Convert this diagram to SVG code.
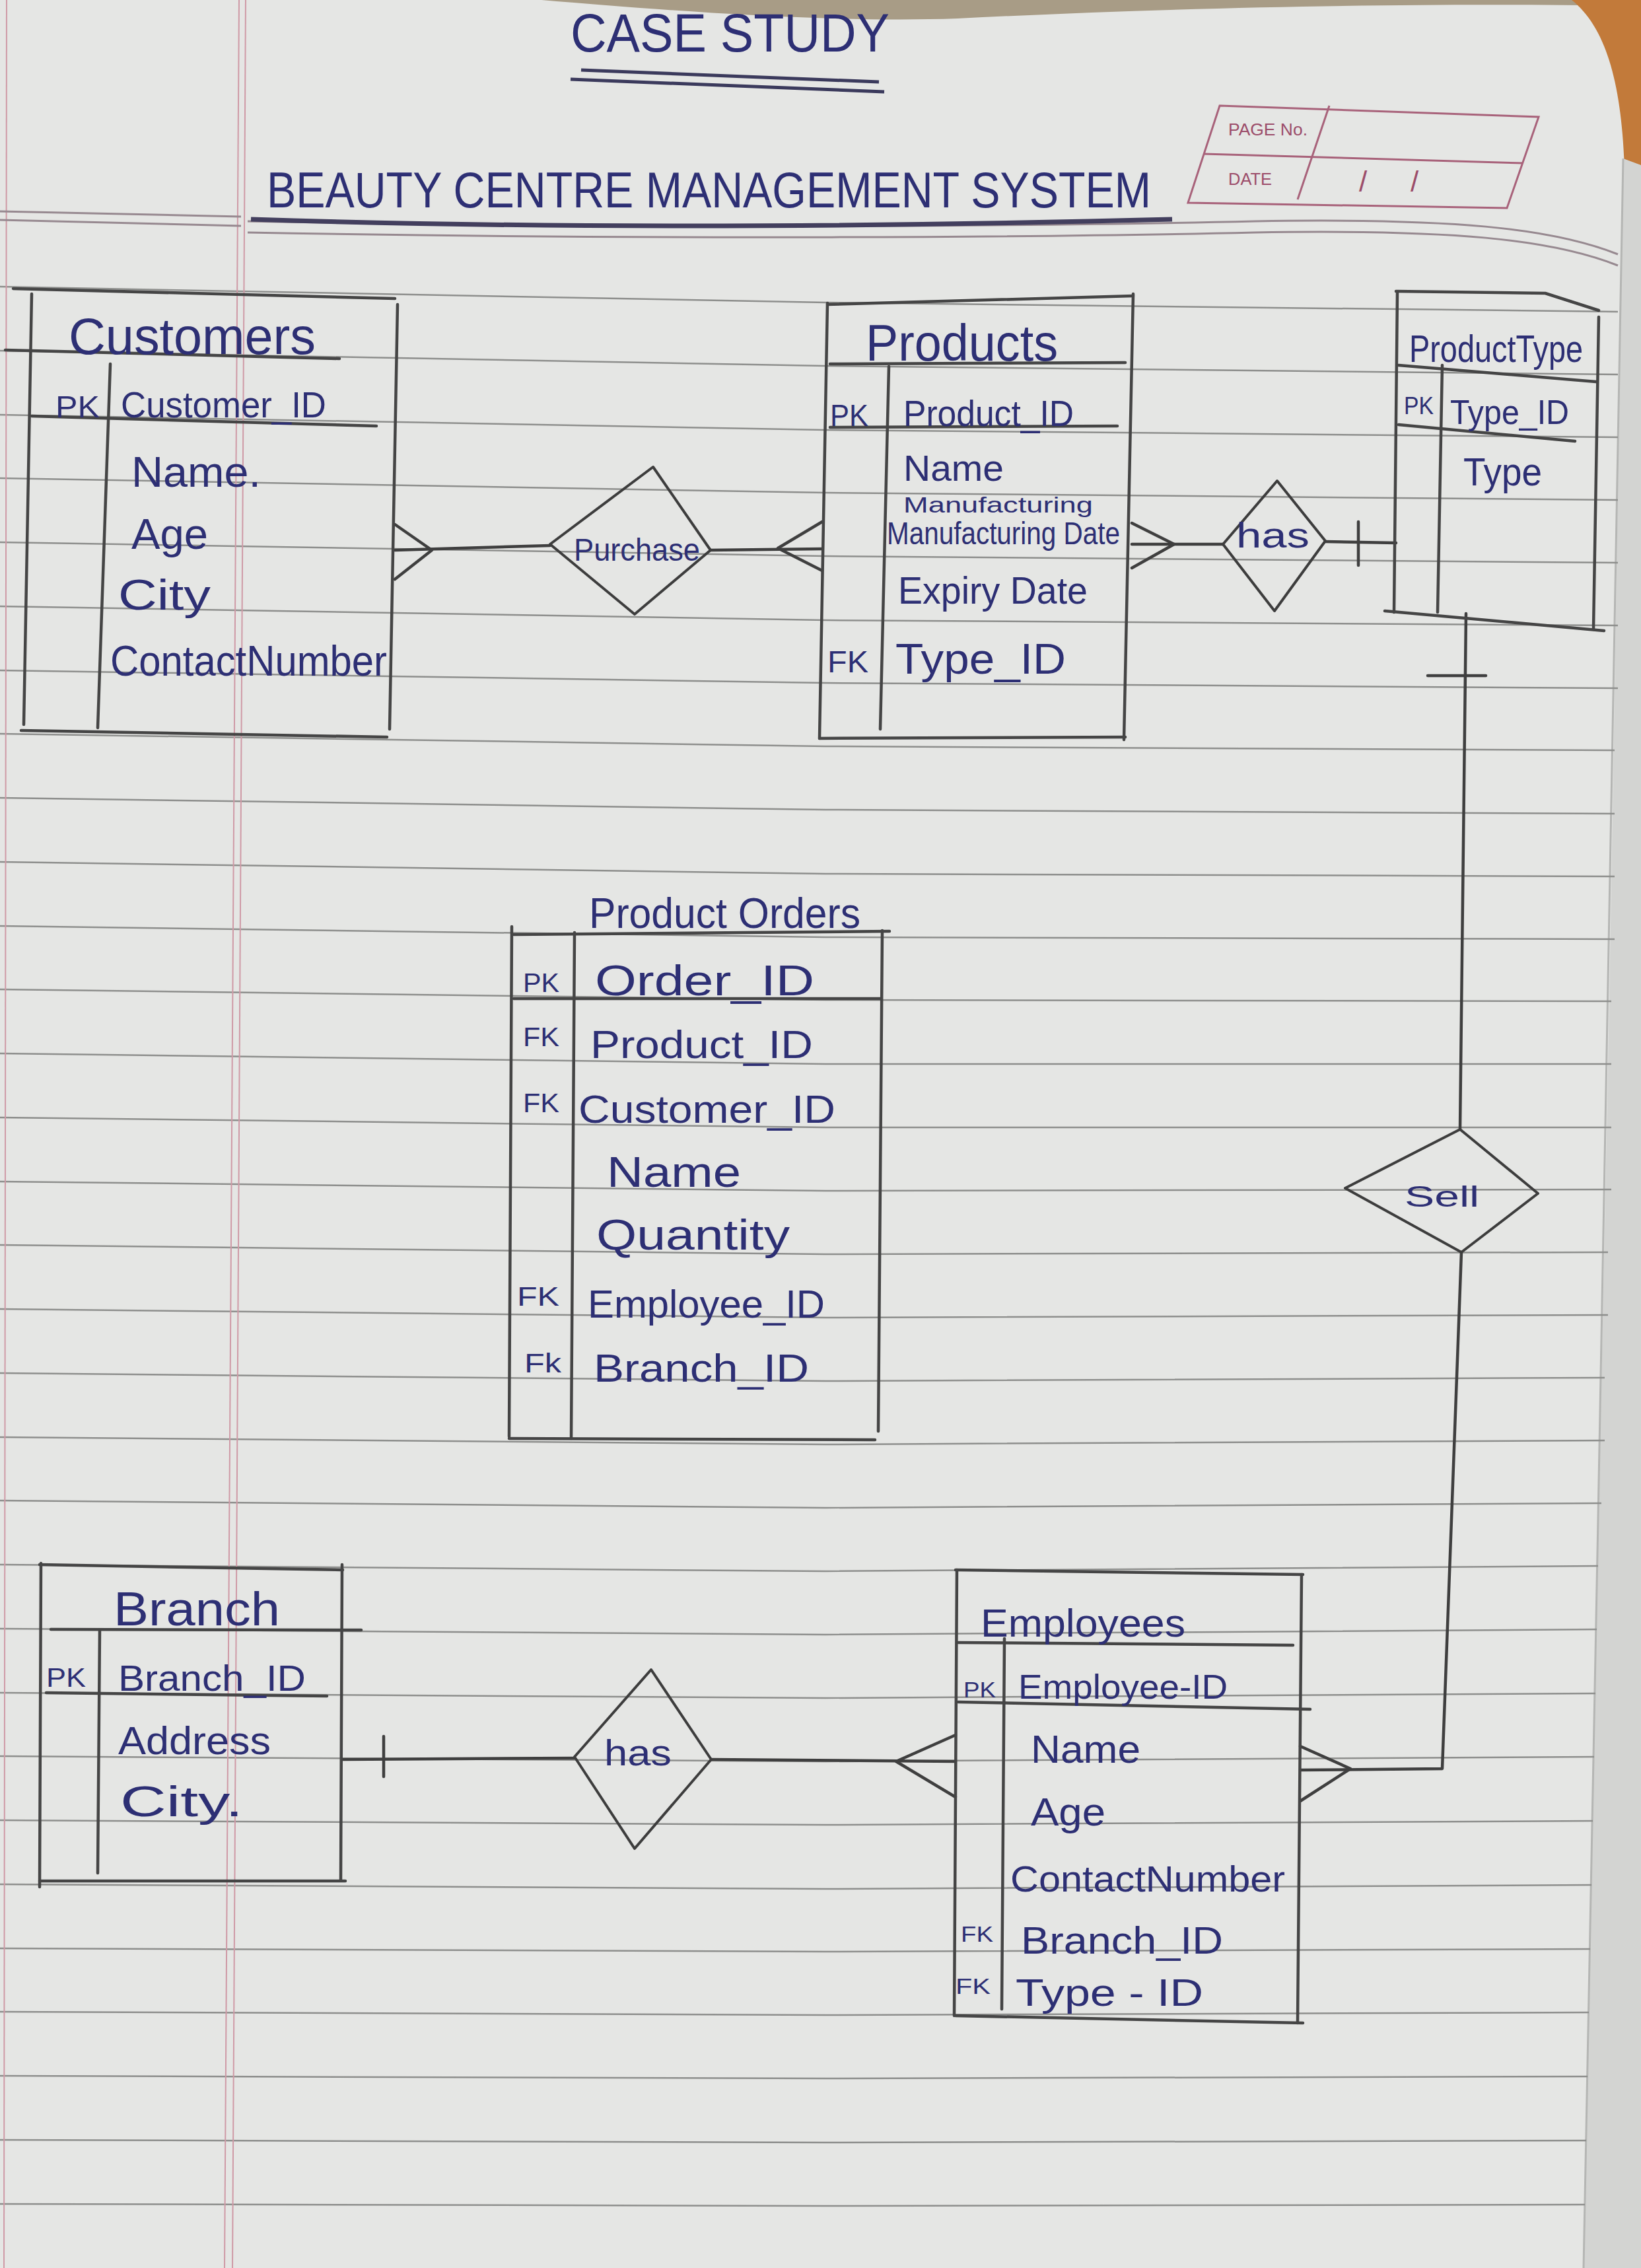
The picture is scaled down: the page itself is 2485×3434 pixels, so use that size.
<svg xmlns="http://www.w3.org/2000/svg" width="2485" height="3434" viewBox="0 0 2485 3434">
<style>
.ink{font-family:"Liberation Sans","DejaVu Sans",sans-serif;fill:#2d2f74}
.key{font-family:"Liberation Sans","DejaVu Sans",sans-serif;fill:#2d2f74}
.print{font-family:"Liberation Sans","DejaVu Sans",sans-serif;fill:#9c4d6a}
.rule{fill:none;stroke:#8e8f8d;stroke-width:2.5}
.box{fill:none;stroke:#454545;stroke-width:4.5;stroke-linecap:round;stroke-linejoin:round}
.dia{fill:none;stroke:#3d3d3d;stroke-width:4;stroke-linejoin:round}
.conn{fill:none;stroke:#3f3f3f;stroke-width:4.5;stroke-linecap:round;stroke-linejoin:round}
.pink{fill:none;stroke:#cf9aa6;stroke-width:2}
.hdr{fill:none;stroke:#978990;stroke-width:3}
.pbox{fill:none;stroke:#a8627a;stroke-width:3}
</style>
<g id="paper">
<rect x="0" y="0" width="2485" height="3434" fill="#e5e6e4"/>
<path d="M820,0 C1000,15 1250,35 1450,28 C1800,10 2150,5 2400,8 L2400,0 Z" fill="#a89c86"/>
<path d="M2380,0 L2485,0 L2485,260 L2460,250 C2455,120 2430,40 2380,0 Z" fill="#c27a3a"/>
<path d="M2458,240 C2450,700 2440,1500 2420,2300 L2398,3434 L2485,3434 L2485,250 Z" fill="#d3d4d2"/>
<path d="M2458,240 C2450,700 2440,1500 2420,2300 L2398,3434" fill="none" stroke="#b5b6b4" stroke-width="3"/>
<g id="ruled-lines">
<path class="rule" d="M0,434 L1250,458 L2450,472"/>
<path class="rule" d="M0,531 L1250,554 L2450,567"/>
<path class="rule" d="M0,628 L1250,651 L2450,662"/>
<path class="rule" d="M0,724 L1250,746 L2450,757"/>
<path class="rule" d="M0,821 L1250,842 L2450,852"/>
<path class="rule" d="M0,918 L1250,939 L2450,947"/>
<path class="rule" d="M0,1015 L1250,1034 L2450,1042"/>
<path class="rule" d="M0,1111 L1250,1130 L2445,1136"/>
<path class="rule" d="M0,1208 L1250,1226 L2445,1232"/>
<path class="rule" d="M0,1305 L1250,1323 L2445,1327"/>
<path class="rule" d="M0,1402 L1250,1419 L2445,1422"/>
<path class="rule" d="M0,1498 L1250,1514 L2440,1516"/>
<path class="rule" d="M0,1595 L1250,1611 L2440,1611"/>
<path class="rule" d="M0,1692 L1250,1707 L2440,1707"/>
<path class="rule" d="M0,1789 L1250,1803 L2440,1801"/>
<path class="rule" d="M0,1885 L1250,1899 L2435,1896"/>
<path class="rule" d="M0,1982 L1250,1995 L2435,1991"/>
<path class="rule" d="M0,2079 L1250,2091 L2430,2086"/>
<path class="rule" d="M0,2176 L1250,2187 L2430,2181"/>
<path class="rule" d="M0,2272 L1250,2283 L2425,2276"/>
<path class="rule" d="M0,2369 L1250,2379 L2420,2371"/>
<path class="rule" d="M0,2466 L1250,2475 L2418,2467"/>
<path class="rule" d="M0,2563 L1250,2571 L2416,2564"/>
<path class="rule" d="M0,2659 L1250,2667 L2414,2660"/>
<path class="rule" d="M0,2756 L1250,2763 L2412,2757"/>
<path class="rule" d="M0,2853 L1250,2860 L2410,2854"/>
<path class="rule" d="M0,2950 L1250,2955 L2408,2951"/>
<path class="rule" d="M0,3046 L1250,3051 L2406,3047"/>
<path class="rule" d="M0,3143 L1250,3147 L2404,3144"/>
<path class="rule" d="M0,3240 L1250,3244 L2402,3241"/>
<path class="rule" d="M0,3337 L1250,3340 L2400,3338"/>
</g>
<path class="pink" d="M362,0 L340,3434"/>
<path class="pink" d="M372,0 L352,3434"/>
<path class="pink" d="M10,0 L6,3434"/>
<path class="hdr" d="M0,320 L365,328"/>
<path class="hdr" d="M0,333 L365,342"/>
<path class="hdr" d="M375,335 C1000,347 1600,342 1900,335 C2200,330 2350,345 2450,385"/>
<path class="hdr" d="M375,352 C1000,364 1600,359 1900,352 C2200,347 2350,362 2450,402"/>
</g>
<g id="title">
<text class="ink" x="864" y="78" font-size="82" textLength="483" lengthAdjust="spacingAndGlyphs">CASE STUDY</text>
<path d="M880,106 L1331,124" stroke="#3b3a5c" stroke-width="5" fill="none"/>
<path d="M864,120 L1339,139" stroke="#3b3a5c" stroke-width="5" fill="none"/>
<text class="ink" x="404" y="314" font-size="76" textLength="1339" lengthAdjust="spacingAndGlyphs">BEAUTY CENTRE MANAGEMENT SYSTEM</text>
<path d="M380,332 Q1000,352 1775,332" stroke="#433f5e" stroke-width="7" fill="none"/>
</g>
<g id="page-date-box">
<path class="pbox" d="M1847,160 L2330,177 L2282,315 L1799,307 Z"/>
<path class="pbox" d="M1823,233 L2306,247"/>
<path class="pbox" d="M2013,160 L1965,302"/>
<text class="print" x="1860" y="205" font-size="26" textLength="120" lengthAdjust="spacingAndGlyphs">PAGE No.</text>
<text class="print" x="1860" y="280" font-size="26" textLength="66" lengthAdjust="spacingAndGlyphs">DATE</text>
<text class="print" x="2058" y="290" font-size="44">/</text>
<text class="print" x="2136" y="290" font-size="44">/</text>
</g>
<g id="connectors">
<path class="conn" d="M598,833 L833,826"/>
<path class="conn" d="M598,794 L654,833 L598,877"/>
<path class="conn" d="M1076,833 L1245,831"/>
<path class="conn" d="M1245,790 L1178,830 L1245,864"/>
<path class="conn" d="M1714,824 L1852,824"/>
<path class="conn" d="M1714,792 L1778,824 L1714,860"/>
<path class="conn" d="M2007,820 L2114,822"/>
<path class="conn" d="M2057,790 L2057,856"/>
<path class="conn" d="M2220,929 L2211,1710"/>
<path class="conn" d="M2162,1023 L2250,1023"/>
<path class="conn" d="M2213,1896 L2184,2678 L1969,2680"/>
<path class="conn" d="M1969,2644 L2045,2678 L1969,2727"/>
<path class="conn" d="M519,2664 L870,2662"/>
<path class="conn" d="M581,2629 L581,2690"/>
<path class="conn" d="M1077,2664 L1447,2667"/>
<path class="conn" d="M1447,2627 L1357,2667 L1447,2721"/>
</g>
<g id="customers">
<path class="box" d="M20,437 L598,452"/>
<path class="box" d="M48,445 L36,1097"/>
<path class="box" d="M602,461 L590,1104"/>
<path class="box" d="M32,1106 L586,1116"/>
<path class="box" d="M8,530 L514,543"/>
<path class="box" d="M167,551 L148,1102"/>
<path class="box" d="M48,630 L570,645"/>
<text class="ink" x="104" y="536" font-size="78" textLength="374" lengthAdjust="spacingAndGlyphs">Customers</text>
<text class="key" x="84" y="632" font-size="46" textLength="67" lengthAdjust="spacingAndGlyphs">PK</text>
<text class="ink" x="183" y="632" font-size="56" textLength="311" lengthAdjust="spacingAndGlyphs">Customer_ID</text>
<text class="ink" x="199" y="737" font-size="64" textLength="196" lengthAdjust="spacingAndGlyphs">Name.</text>
<text class="ink" x="199" y="831" font-size="64" textLength="116" lengthAdjust="spacingAndGlyphs">Age</text>
<text class="ink" x="179" y="923" font-size="64" textLength="140" lengthAdjust="spacingAndGlyphs">City</text>
<text class="ink" x="167" y="1023" font-size="64" textLength="419" lengthAdjust="spacingAndGlyphs">ContactNumber</text>
</g>
<g id="rel-purchase">
<path class="dia" d="M989,707 L1076,833 L961,930 L833,824 Z"/>
<text class="ink" x="869" y="849" font-size="48" textLength="191" lengthAdjust="spacingAndGlyphs">Purchase</text>
</g>
<g id="products">
<path class="box" d="M1253,461 L1716,448"/>
<path class="box" d="M1253,459 L1241,1118"/>
<path class="box" d="M1716,445 L1702,1120"/>
<path class="box" d="M1241,1118 L1704,1116"/>
<path class="box" d="M1257,551 L1704,549"/>
<path class="box" d="M1346,555 L1333,1104"/>
<path class="box" d="M1257,647 L1692,645"/>
<text class="ink" x="1311" y="546" font-size="78" textLength="291" lengthAdjust="spacingAndGlyphs">Products</text>
<text class="key" x="1257" y="645" font-size="46" textLength="58" lengthAdjust="spacingAndGlyphs">PK</text>
<text class="ink" x="1368" y="645" font-size="56" textLength="258" lengthAdjust="spacingAndGlyphs">Product_ID</text>
<text class="ink" x="1368" y="728" font-size="56" textLength="152" lengthAdjust="spacingAndGlyphs">Name</text>
<text class="ink" x="1368" y="776" font-size="34" textLength="287" lengthAdjust="spacingAndGlyphs">Manufacturing</text>
<text class="ink" x="1343" y="824" font-size="48" textLength="353" lengthAdjust="spacingAndGlyphs">Manufacturing Date</text>
<text class="ink" x="1360" y="914" font-size="58" textLength="287" lengthAdjust="spacingAndGlyphs">Expiry Date</text>
<text class="key" x="1253" y="1018" font-size="46" textLength="62" lengthAdjust="spacingAndGlyphs">FK</text>
<text class="ink" x="1356" y="1020" font-size="64" textLength="258" lengthAdjust="spacingAndGlyphs">Type_ID</text>
</g>
<g id="rel-has-top">
<path class="dia" d="M1934,728 L2007,819 L1930,925 L1852,824 Z"/>
<text class="ink" x="1872" y="829" font-size="54" textLength="111" lengthAdjust="spacingAndGlyphs">has</text>
</g>
<g id="product-type">
<path class="box" d="M2114,441 L2340,444 L2421,470"/>
<path class="box" d="M2116,443 L2111,927"/>
<path class="box" d="M2421,480 L2413,953"/>
<path class="box" d="M2097,925 L2429,955"/>
<path class="box" d="M2118,553 L2417,578"/>
<path class="box" d="M2184,553 L2177,927"/>
<path class="box" d="M2118,643 L2385,668"/>
<text class="ink" x="2134" y="548" font-size="58" textLength="263" lengthAdjust="spacingAndGlyphs">ProductType</text>
<text class="key" x="2126" y="627" font-size="36" textLength="45" lengthAdjust="spacingAndGlyphs">PK</text>
<text class="ink" x="2196" y="642" font-size="52" textLength="180" lengthAdjust="spacingAndGlyphs">Type_ID</text>
<text class="ink" x="2216" y="735" font-size="60" textLength="119" lengthAdjust="spacingAndGlyphs">Type</text>
</g>
<g id="rel-sell">
<path class="dia" d="M2211,1710 L2329,1807 L2213,1896 L2037,1799 Z"/>
<text class="ink" x="2127" y="1827" font-size="44" textLength="113" lengthAdjust="spacingAndGlyphs">Sell</text>
</g>
<g id="product-orders">
<path class="box" d="M778,1415 L1347,1410"/>
<path class="box" d="M775,1403 L771,2175"/>
<path class="box" d="M870,1412 L865,2178"/>
<path class="box" d="M1336,1409 L1330,2167"/>
<path class="box" d="M771,2178 L1325,2180"/>
<path class="box" d="M778,1512 L1334,1512"/>
<text class="ink" x="892" y="1405" font-size="64" textLength="411" lengthAdjust="spacingAndGlyphs">Product Orders</text>
<text class="key" x="792" y="1502" font-size="40" textLength="55" lengthAdjust="spacingAndGlyphs">PK</text>
<text class="ink" x="901" y="1507" font-size="64" textLength="332" lengthAdjust="spacingAndGlyphs">Order_ID</text>
<text class="key" x="792" y="1584" font-size="40" textLength="55" lengthAdjust="spacingAndGlyphs">FK</text>
<text class="ink" x="894" y="1602" font-size="60" textLength="337" lengthAdjust="spacingAndGlyphs">Product_ID</text>
<text class="key" x="792" y="1684" font-size="40" textLength="55" lengthAdjust="spacingAndGlyphs">FK</text>
<text class="ink" x="876" y="1700" font-size="60" textLength="389" lengthAdjust="spacingAndGlyphs">Customer_ID</text>
<text class="ink" x="919" y="1797" font-size="64" textLength="203" lengthAdjust="spacingAndGlyphs">Name</text>
<text class="ink" x="903" y="1892" font-size="64" textLength="293" lengthAdjust="spacingAndGlyphs">Quantity</text>
<text class="key" x="783" y="1977" font-size="40" textLength="64" lengthAdjust="spacingAndGlyphs">FK</text>
<text class="ink" x="890" y="1995" font-size="60" textLength="359" lengthAdjust="spacingAndGlyphs">Employee_ID</text>
<text class="key" x="794" y="2078" font-size="40" textLength="56" lengthAdjust="spacingAndGlyphs">Fk</text>
<text class="ink" x="899" y="2092" font-size="60" textLength="326" lengthAdjust="spacingAndGlyphs">Branch_ID</text>
</g>
<g id="branch">
<path class="box" d="M60,2369 L519,2377"/>
<path class="box" d="M62,2367 L60,2857"/>
<path class="box" d="M518,2369 L516,2847"/>
<path class="box" d="M60,2848 L523,2848"/>
<path class="box" d="M77,2467 L547,2468"/>
<path class="box" d="M151,2468 L148,2836"/>
<path class="box" d="M70,2563 L495,2568"/>
<text class="ink" x="172" y="2461" font-size="72" textLength="252" lengthAdjust="spacingAndGlyphs">Branch</text>
<text class="key" x="70" y="2554" font-size="40" textLength="60" lengthAdjust="spacingAndGlyphs">PK</text>
<text class="ink" x="179" y="2560" font-size="56" textLength="284" lengthAdjust="spacingAndGlyphs">Branch_ID</text>
<text class="ink" x="179" y="2656" font-size="60" textLength="231" lengthAdjust="spacingAndGlyphs">Address</text>
<text class="ink" x="182" y="2750" font-size="64" textLength="186" lengthAdjust="spacingAndGlyphs">City.</text>
</g>
<g id="rel-has-bottom">
<path class="dia" d="M986,2528 L1077,2664 L961,2799 L870,2660 Z"/>
<text class="ink" x="915" y="2673" font-size="56" textLength="102" lengthAdjust="spacingAndGlyphs">has</text>
</g>
<g id="employees">
<path class="box" d="M1447,2377 L1973,2384"/>
<path class="box" d="M1449,2377 L1445,3052"/>
<path class="box" d="M1971,2384 L1965,3063"/>
<path class="box" d="M1447,3052 L1973,3063"/>
<path class="box" d="M1451,2487 L1958,2491"/>
<path class="box" d="M1521,2481 L1517,3042"/>
<path class="box" d="M1451,2577 L1984,2588"/>
<text class="ink" x="1485" y="2478" font-size="60" textLength="310" lengthAdjust="spacingAndGlyphs">Employees</text>
<text class="key" x="1459" y="2570" font-size="34" textLength="49" lengthAdjust="spacingAndGlyphs">PK</text>
<text class="ink" x="1542" y="2572" font-size="52" textLength="317" lengthAdjust="spacingAndGlyphs">Employee-ID</text>
<text class="ink" x="1561" y="2669" font-size="60" textLength="166" lengthAdjust="spacingAndGlyphs">Name</text>
<text class="ink" x="1561" y="2764" font-size="60" textLength="113" lengthAdjust="spacingAndGlyphs">Age</text>
<text class="ink" x="1530" y="2864" font-size="56" textLength="416" lengthAdjust="spacingAndGlyphs">ContactNumber</text>
<text class="key" x="1455" y="2940" font-size="34" textLength="49" lengthAdjust="spacingAndGlyphs">FK</text>
<text class="ink" x="1546" y="2958" font-size="58" textLength="306" lengthAdjust="spacingAndGlyphs">Branch_ID</text>
<text class="key" x="1447" y="3019" font-size="34" textLength="53" lengthAdjust="spacingAndGlyphs">FK</text>
<text class="ink" x="1538" y="3037" font-size="58" textLength="284" lengthAdjust="spacingAndGlyphs">Type - ID</text>
</g>
</svg>
